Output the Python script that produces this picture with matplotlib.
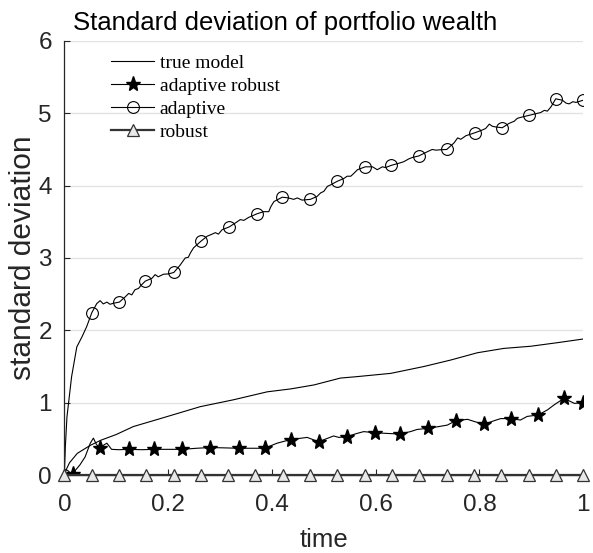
import numpy as np
import matplotlib
matplotlib.use("Agg")
import matplotlib.pyplot as plt

# ---- data -------------------------------------------------------------
# true model (no markers)
t_true = [0.0, 0.004, 0.010, 0.025, 0.050, 0.070, 0.100, 0.133, 0.185, 0.262,
          0.326, 0.391, 0.436, 0.481, 0.532, 0.564, 0.629, 0.693, 0.745, 0.796,
          0.847, 0.899, 0.951, 1.0]
sd_true = [0.0, 0.08, 0.17, 0.30, 0.41, 0.48, 0.56, 0.67, 0.78, 0.945,
           1.04, 1.15, 1.19, 1.245, 1.34, 1.36, 1.405, 1.50, 1.59, 1.69,
           1.75, 1.78, 1.83, 1.88]

# adaptive: marker points
t_adapt_mk = [0.0, 0.053, 0.106, 0.156, 0.211, 0.263, 0.318, 0.371, 0.420, 0.474,
              0.526, 0.580, 0.630, 0.683, 0.737, 0.791, 0.844, 0.895, 0.947, 1.0]
sd_adapt_mk = [0.0, 2.245, 2.39, 2.68, 2.80, 3.23, 3.43, 3.61, 3.84, 3.81,
               4.06, 4.26, 4.28, 4.41, 4.50, 4.73, 4.80, 4.97, 5.20, 5.18]
# adaptive: path between markers
t_adapt_mid = [0.002, 0.005, 0.014, 0.024, 0.034, 0.043,
               0.0625, 0.069, 0.075, 0.082, 0.088, 0.095,
               0.117, 0.124, 0.130, 0.136, 0.143, 0.149,
               0.169, 0.175, 0.181, 0.191, 0.201,
               0.223, 0.233, 0.239, 0.243, 0.249,
               0.275, 0.285, 0.291, 0.297, 0.304,
               0.333, 0.339, 0.346, 0.355,
               0.384, 0.394, 0.398, 0.404,
               0.432, 0.442, 0.449, 0.458,
               0.487, 0.494, 0.500, 0.507, 0.513,
               0.539, 0.545, 0.552, 0.558, 0.565,
               0.594, 0.603, 0.613, 0.619,
               0.645, 0.654, 0.664, 0.671,
               0.700, 0.709, 0.716, 0.724,
               0.751, 0.758, 0.764, 0.774,
               0.806, 0.812, 0.819, 0.825, 0.832,
               0.857, 0.867, 0.873, 0.883,
               0.912, 0.918, 0.925, 0.931, 0.938,
               0.960, 0.967, 0.973, 0.980, 0.986]
sd_adapt_mid = [0.40, 0.80, 1.36, 1.77, 1.91, 2.05,
                2.37, 2.41, 2.365, 2.39, 2.36, 2.375,
                2.46, 2.51, 2.49, 2.56, 2.58, 2.63,
                2.72, 2.77, 2.74, 2.775, 2.78,
                2.90, 3.00, 3.01, 3.07, 3.14,
                3.30, 3.33, 3.35, 3.33, 3.39,
                3.50, 3.53, 3.52, 3.56,
                3.64, 3.64, 3.71, 3.78,
                3.83, 3.81, 3.83, 3.80,
                3.85, 3.90, 3.92, 3.99, 4.01,
                4.10, 4.13, 4.13, 4.17, 4.22,
                4.26, 4.22, 4.26, 4.25,
                4.31, 4.33, 4.37, 4.39,
                4.47, 4.50, 4.49, 4.495,
                4.59, 4.66, 4.64, 4.69,
                4.77, 4.79, 4.85, 4.82, 4.81,
                4.86, 4.89, 4.93, 4.95,
                5.00, 5.01, 5.04, 5.03, 5.09,
                5.18, 5.14, 5.13, 5.16, 5.15]

# adaptive robust: marker points
t_ar_mk = [0.016, 0.068, 0.124, 0.172, 0.227, 0.281, 0.336, 0.386, 0.436, 0.490,
           0.544, 0.598, 0.647, 0.700, 0.754, 0.809, 0.860, 0.913, 0.963, 1.0]
sd_ar_mk = [0.02, 0.38, 0.355, 0.355, 0.355, 0.38, 0.37, 0.37, 0.49, 0.46,
            0.53, 0.585, 0.567, 0.645, 0.75, 0.70, 0.78, 0.83, 1.06, 1.00]
# adaptive robust: path between markers
t_ar_mid = [0.0, 0.008, 0.030, 0.040, 0.050, 0.056, 0.062,
            0.075, 0.082, 0.091, 0.105,
            0.150, 0.200, 0.255, 0.310, 0.360,
            0.410, 0.468,
            0.519, 0.529, 0.564, 0.577, 0.622,
            0.667, 0.680, 0.722, 0.738, 0.777, 0.790,
            0.828, 0.841, 0.879, 0.892, 0.931, 0.944, 0.983]
sd_ar_mid = [0.0, 0.0, 0.14, 0.25, 0.44, 0.51, 0.42,
             0.41, 0.44, 0.355, 0.35,
             0.35, 0.355, 0.37, 0.375, 0.37,
             0.44, 0.52,
             0.54, 0.52, 0.575, 0.60, 0.575,
             0.60, 0.63, 0.67, 0.69, 0.77, 0.74,
             0.75, 0.78, 0.76, 0.81, 0.90, 0.97, 0.99]

# robust: identically zero
t_rob = [0.0, 0.053, 0.105, 0.158, 0.211, 0.263, 0.316, 0.368, 0.421, 0.474,
         0.526, 0.579, 0.632, 0.684, 0.737, 0.789, 0.842, 0.895, 0.947, 1.0]
sd_rob = [0.0] * len(t_rob)

series_labels = ["true model", "adaptive robust", "adaptive", "robust"]
x_ticks = [0, 0.2, 0.4, 0.6, 0.8, 1]
x_tick_labels = ["0", "0.2", "0.4", "0.6", "0.8", "1"]
y_ticks = [0, 1, 2, 3, 4, 5, 6]


def merge(t_a, y_a, t_b, y_b):
    t = np.concatenate([t_a, t_b])
    y = np.concatenate([y_a, y_b])
    order = np.argsort(t, kind="stable")
    t, y = t[order], y[order]
    idx = [int(np.where(np.isclose(t, v))[0][0]) for v in t_a]
    return t, y, idx


# ---- figure -----------------------------------------------------------
plt.rcParams["font.family"] = ["Liberation Sans", "DejaVu Sans"]
fig = plt.figure(figsize=(5.93, 5.53), dpi=100)
ax = fig.add_axes([0.1085, 0.141, 0.875, 0.785])

ink = "#262626"
lw = 0.8

ax.plot(t_true, sd_true, color="black", lw=lw, label=series_labels[0])

t_ar, sd_ar, idx_ar = merge(t_ar_mk, sd_ar_mk, t_ar_mid, sd_ar_mid)
ax.plot(t_ar, sd_ar, color="black", lw=lw, marker="*", markersize=11,
        markerfacecolor="black", markeredgecolor="black", markevery=idx_ar,
        label=series_labels[1])

t_ad, sd_ad, idx_ad = merge(t_adapt_mk, sd_adapt_mk, t_adapt_mid, sd_adapt_mid)
ax.plot(t_ad, sd_ad, color="black", lw=lw, marker="o", markersize=8.5,
        markerfacecolor="none", markeredgecolor="black", markeredgewidth=0.8,
        markevery=idx_ad, label=series_labels[2])

ax.plot(t_rob, sd_rob, color="#333333", lw=1.6, marker="^", markersize=8.5,
        markerfacecolor="#e8e8e8", markeredgecolor="#333333",
        markeredgewidth=0.9, clip_on=False, zorder=3, label=series_labels[3])

ax.set_xlim(0, 1)
ax.set_ylim(0, 6)
ax.set_xticks(x_ticks)
ax.set_xticklabels(x_tick_labels)
ax.set_yticks(y_ticks)

ax.yaxis.grid(True, color="#e3e3e3", lw=1.0)
ax.set_axisbelow(True)
for side in ("top", "right"):
    ax.spines[side].set_visible(False)
for side in ("left", "bottom"):
    ax.spines[side].set_color(ink)
    ax.spines[side].set_linewidth(0.9)

ax.tick_params(direction="in", length=4, width=0.8, colors=ink,
               labelsize=17.5)
ax.tick_params(axis="x", pad=14)
ax.tick_params(axis="y", pad=9)

fig.text(285 / 593, 1 - 23 / 553, "Standard deviation of portfolio wealth",
         fontsize=18.5, color="black", ha="center", va="center")
ax.set_xlabel("time", fontsize=18.5, color=ink, labelpad=8)
ax.set_ylabel("standard deviation", fontsize=21.5, color=ink, labelpad=1)

leg = ax.legend(loc="upper left", bbox_to_anchor=(0.064, 1.0), frameon=False,
                prop={"family": ["Liberation Serif", "DejaVu Serif"], "size": 14},
                handlelength=2.2, handletextpad=0.3, labelspacing=0.27,
                borderaxespad=0.3)
for txt in leg.get_texts():
    txt.set_color("black")

fig.savefig("out.png", dpi=100)
